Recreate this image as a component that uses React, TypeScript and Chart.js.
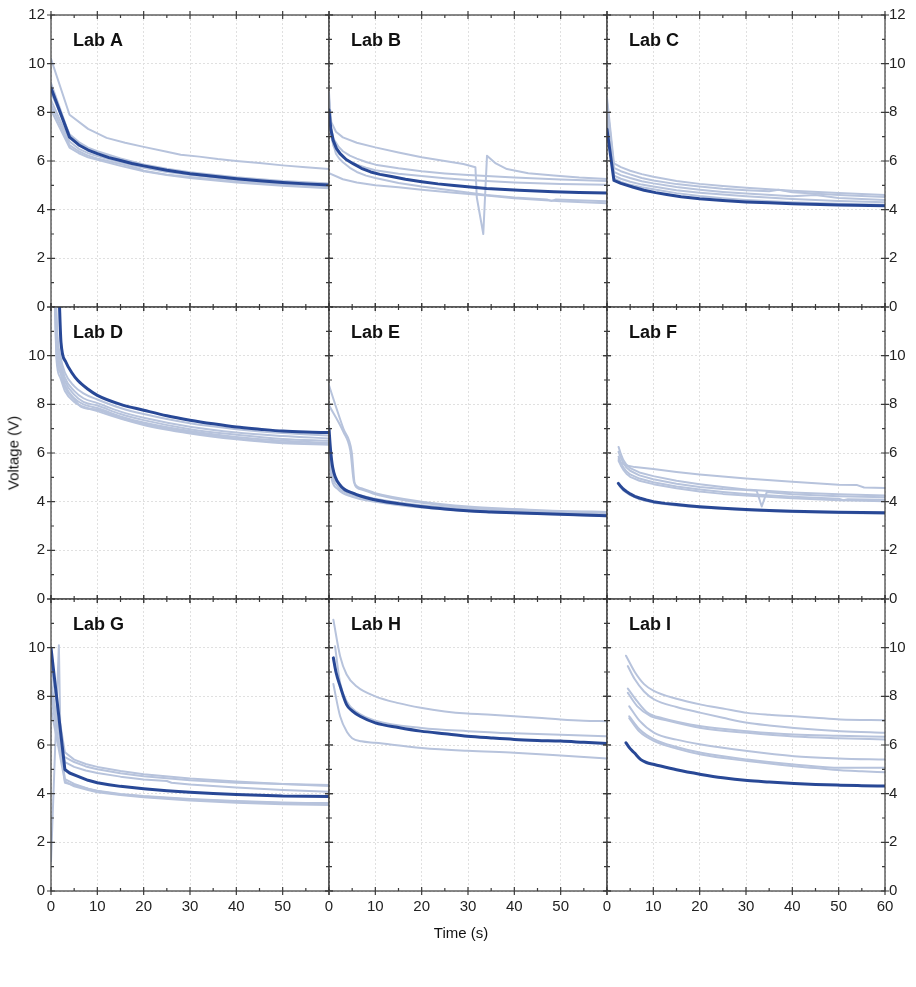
import React, { useEffect, useRef } from 'react';
import { Chart, registerables } from 'chart.js';

Chart.register(...registerables);

type Pt = [number, number];

// ---------- axes ----------
const X_TICKS = [0, 10, 20, 30, 40, 50, 60];
const X_MINOR = [5, 15, 25, 35, 45, 55];
const Y_TICKS = [0, 2, 4, 6, 8, 10, 12];
const Y_MINOR = [1, 3, 5, 7, 9, 11];
const X_TITLE = 'Time (s)';
const Y_TITLE = 'Voltage (V)';
const LAB_NAMES = ['Lab A', 'Lab B', 'Lab C', 'Lab D', 'Lab E', 'Lab F', 'Lab G', 'Lab H', 'Lab I'];

// ---------- data: [time s, voltage V] ----------
const LAB_A_MEAN: Pt[] = [[0, 9.0], [4, 6.98], [6, 6.66], [8, 6.45], [10, 6.3], [12.5, 6.14], [15, 6.02], [17.5, 5.9], [20, 5.8], [25, 5.62], [30, 5.48], [35, 5.37], [40, 5.27], [45, 5.19], [50, 5.12], [55, 5.06], [60, 5.01]];
const LAB_A_RUNS: Pt[][] = [
  [[0, 10.2], [4, 7.9], [8, 7.32], [12, 6.95], [16, 6.75], [20, 6.58], [25, 6.38], [28, 6.26], [32, 6.18], [36, 6.08], [40, 6.0], [45, 5.92], [50, 5.82], [55, 5.74], [60, 5.67]],
  [[0, 8.8], [4, 7.1], [6, 6.78], [8, 6.55], [10, 6.4], [15, 6.1], [20, 5.86], [25, 5.68], [30, 5.54], [40, 5.33], [50, 5.18], [60, 5.08]],
  [[0, 8.5], [4, 6.8], [6, 6.5], [8, 6.32], [10, 6.2], [15, 5.95], [20, 5.72], [25, 5.55], [30, 5.43], [40, 5.22], [50, 5.08], [60, 4.98]],
  [[0, 8.3], [4, 6.65], [6, 6.4], [8, 6.22], [10, 6.1], [15, 5.88], [19, 5.68], [20, 5.6], [25, 5.44], [30, 5.34], [40, 5.16], [50, 5.02], [60, 4.92]],
  [[0, 8.1], [4, 6.55], [6, 6.32], [8, 6.15], [10, 6.05], [15, 5.8], [20, 5.58], [25, 5.42], [30, 5.3], [40, 5.12], [50, 4.98], [60, 4.88]],
  [[0, 9.2], [4, 7.05], [7, 6.6], [10, 6.35], [15, 6.05], [20, 5.83], [30, 5.5], [40, 5.3], [50, 5.15], [60, 5.05]],
];

const LAB_B_MEAN: Pt[] = [[0, 8.1], [0.4, 7.3], [0.9, 6.85], [1.6, 6.52], [2.4, 6.3], [3.7, 6.06], [5.3, 5.88], [7, 5.7], [9, 5.55], [11, 5.45], [13.5, 5.36], [16.5, 5.25], [20, 5.15], [23.5, 5.06], [27, 4.99], [30.5, 4.93], [34, 4.87], [41, 4.8], [48.5, 4.74], [54, 4.71], [60, 4.68]];
const LAB_B_RUNS: Pt[][] = [
  [[0, 8.6], [0.5, 7.6], [1.5, 7.2], [3, 6.97], [6, 6.75], [10, 6.56], [15, 6.35], [20, 6.15], [25, 6.0], [29, 5.88], [31.6, 5.74], [31.9, 4.5], [33.3, 3.0], [34.1, 6.22], [36, 5.9], [38.4, 5.67], [43, 5.5], [48.5, 5.4], [54, 5.32], [60, 5.26]],
  [[0, 8.0], [0.5, 7.3], [1, 6.9], [2, 6.6], [3, 6.4], [4.5, 6.22], [6, 6.1], [8, 5.96], [10, 5.85], [15, 5.7], [20, 5.58], [25, 5.49], [30, 5.42], [40, 5.32], [50, 5.24], [60, 5.18]],
  [[0, 7.6], [0.5, 7.0], [1, 6.6], [2, 6.33], [3, 6.15], [4.5, 5.98], [6, 5.85], [8, 5.72], [10, 5.62], [15, 5.48], [20, 5.38], [25, 5.29], [30, 5.22], [40, 5.12], [50, 5.05], [60, 5.02]],
  [[0, 8.8], [0.5, 7.2], [1, 6.65], [1.5, 6.3], [2.2, 6.1], [3, 5.95], [4.5, 5.72], [6, 5.55], [8, 5.4], [10, 5.3], [15, 5.1], [20, 4.95], [27, 4.78], [34, 4.6], [40, 4.5], [47, 4.42], [48, 4.36], [49, 4.42], [55, 4.38], [60, 4.35]],
  [[0, 5.5], [3, 5.25], [6, 5.12], [10, 5.0], [15, 4.92], [20, 4.82], [27, 4.7], [34, 4.58], [40, 4.47], [50, 4.35], [60, 4.26]],
];

const LAB_C_MEAN: Pt[] = [[0, 7.3], [1.5, 5.2], [3, 5.08], [5.7, 4.92], [8, 4.8], [10.5, 4.7], [12.9, 4.62], [16, 4.53], [20, 4.45], [25, 4.38], [30, 4.32], [35, 4.28], [40, 4.24], [50, 4.19], [60, 4.16]];
const LAB_C_RUNS: Pt[][] = [
  [[0, 8.6], [1.5, 5.9], [3, 5.75], [5, 5.6], [7.5, 5.46], [10, 5.35], [15, 5.18], [20, 5.06], [25, 4.97], [30, 4.9], [40, 4.78], [50, 4.68], [60, 4.6]],
  [[0, 8.4], [1.5, 5.72], [3, 5.58], [5, 5.45], [7.5, 5.3], [10, 5.2], [15, 5.05], [20, 4.95], [25, 4.86], [30, 4.8], [35, 4.76], [37, 4.82], [40, 4.72], [50, 4.6], [60, 4.52]],
  [[0, 8.1], [1.5, 5.55], [3, 5.42], [5, 5.3], [7.5, 5.17], [10, 5.08], [15, 4.93], [20, 4.82], [25, 4.73], [30, 4.66], [40, 4.55], [45, 4.6], [50, 4.48], [60, 4.4]],
  [[0, 7.9], [1.5, 5.4], [3, 5.27], [5, 5.15], [7.5, 5.03], [10, 4.95], [15, 4.8], [20, 4.7], [25, 4.62], [30, 4.55], [40, 4.44], [50, 4.36], [60, 4.3]],
  [[0, 7.6], [1.5, 5.28], [3, 5.14], [5, 5.02], [7.5, 4.92], [10, 4.84], [15, 4.68], [20, 4.56], [25, 4.47], [30, 4.4], [40, 4.3], [50, 4.24], [60, 4.2]],
];

const LAB_D_MEAN: Pt[] = [[1.75, 12.5], [2.15, 10.56], [3.2, 9.74], [4.5, 9.3], [5.75, 8.99], [8, 8.62], [10, 8.37], [15, 8.0], [20, 7.76], [25, 7.53], [30, 7.35], [35, 7.2], [40, 7.07], [45, 6.98], [50, 6.9], [55, 6.86], [60, 6.84]];
const LAB_D_RUNS: Pt[][] = [
  [[1.0, 12.5], [1.4, 10.8], [2, 10.0], [3, 9.3], [5, 8.75], [7, 8.45], [10, 8.2], [15, 7.85], [20, 7.6], [30, 7.22], [40, 6.98], [50, 6.82], [60, 6.72]],
  [[1.0, 12.5], [1.4, 10.5], [2, 9.8], [3, 9.1], [5, 8.55], [7, 8.25], [10, 8.05], [15, 7.7], [20, 7.45], [30, 7.08], [40, 6.84], [50, 6.7], [60, 6.6]],
  [[0.9, 12.5], [1.3, 10.4], [2, 9.6], [3, 8.95], [5, 8.4], [7, 8.1], [10, 7.95], [15, 7.6], [20, 7.35], [30, 6.98], [40, 6.75], [50, 6.58], [60, 6.5]],
  [[0.9, 12.5], [1.3, 10.2], [2, 9.45], [3, 8.8], [5, 8.25], [7, 8.0], [10, 7.85], [15, 7.5], [20, 7.25], [30, 6.9], [40, 6.66], [50, 6.5], [60, 6.42]],
  [[0.8, 12.5], [1.2, 10.0], [2, 9.3], [3, 8.7], [5, 8.2], [6.5, 7.9], [10, 7.78], [15, 7.44], [20, 7.2], [30, 6.85], [40, 6.6], [50, 6.44], [60, 6.37]],
  [[0.8, 12.5], [1.2, 9.8], [2, 9.1], [3, 8.55], [5, 8.1], [10, 7.72], [20, 7.15], [30, 6.8], [40, 6.56], [50, 6.4], [60, 6.34]],
];

const LAB_E_MEAN: Pt[] = [[0, 7.0], [0.3, 6.2], [0.8, 5.4], [2.4, 4.68], [5.3, 4.34], [9.6, 4.09], [15, 3.92], [19.7, 3.8], [25, 3.7], [29.8, 3.63], [35, 3.58], [39.8, 3.54], [49.9, 3.48], [60, 3.42]];
const LAB_E_RUNS: Pt[][] = [
  [[0, 8.78], [1.5, 7.9], [3.1, 7.0], [4.9, 6.05], [5.6, 4.68], [7, 4.5], [10, 4.3], [15, 4.1], [20, 3.95], [30, 3.75], [40, 3.65], [50, 3.6], [60, 3.56]],
  [[0, 7.96], [3.1, 6.87], [4.6, 6.1], [5.4, 4.8], [7, 4.55], [10, 4.35], [20, 4.0], [30, 3.8], [40, 3.7], [50, 3.62], [60, 3.58]],
  [[0, 6.5], [0.5, 5.4], [2, 4.75], [5, 4.38], [10, 4.12], [20, 3.85], [30, 3.7], [40, 3.6], [50, 3.55], [60, 3.5]],
  [[0, 6.0], [0.5, 5.2], [2, 4.6], [5, 4.28], [10, 4.05], [20, 3.8], [30, 3.66], [40, 3.56], [50, 3.5], [60, 3.46]],
  [[0, 5.8], [0.5, 5.0], [2, 4.5], [5, 4.2], [10, 4.0], [20, 3.76], [30, 3.62], [40, 3.53], [50, 3.47], [60, 3.4]],
];

const LAB_F_MEAN: Pt[] = [[2.45, 4.75], [3, 4.62], [3.5, 4.52], [4.2, 4.42], [5, 4.32], [6, 4.22], [7, 4.15], [8.5, 4.07], [10, 4.0], [12.5, 3.93], [15, 3.88], [17.5, 3.83], [20, 3.79], [25, 3.73], [30, 3.68], [35, 3.64], [40, 3.61], [50, 3.57], [60, 3.54]];
const LAB_F_RUNS: Pt[][] = [
  [[2.5, 5.75], [3, 5.6], [4, 5.5], [6, 5.42], [10, 5.34], [15, 5.22], [20, 5.12], [25, 5.03], [30, 4.95], [40, 4.82], [50, 4.7], [54, 4.68], [55.5, 4.58], [60, 4.56]],
  [[2.5, 6.25], [3, 5.95], [3.5, 5.72], [4.2, 5.52], [5, 5.38], [7, 5.2], [10, 5.05], [15, 4.86], [20, 4.72], [25, 4.6], [30, 4.5], [40, 4.38], [50, 4.3], [60, 4.25]],
  [[2.5, 6.05], [3, 5.8], [3.5, 5.6], [4.2, 5.4], [5, 5.27], [7, 5.08], [10, 4.92], [15, 4.74], [20, 4.6], [25, 4.52], [30, 4.48], [32.3, 4.45], [33.4, 3.8], [34.5, 4.4], [40, 4.3], [50, 4.22], [60, 4.18]],
  [[2.5, 5.85], [3, 5.6], [3.5, 5.42], [4.2, 5.25], [5, 5.12], [7, 4.95], [10, 4.8], [15, 4.62], [20, 4.5], [25, 4.4], [30, 4.32], [40, 4.2], [50, 4.12], [51, 4.06], [52, 4.1], [60, 4.08]],
  [[2.5, 5.68], [3, 5.48], [3.5, 5.32], [4.2, 5.15], [5, 5.02], [7, 4.86], [10, 4.72], [15, 4.55], [20, 4.42], [25, 4.32], [30, 4.25], [40, 4.14], [50, 4.06], [60, 4.02]],
  [[2.5, 4.7], [3.5, 4.46], [5, 4.27], [7, 4.1], [10, 3.96], [15, 3.84], [20, 3.76], [30, 3.65], [40, 3.58], [60, 3.5]],
];

const LAB_G_MEAN: Pt[] = [[0, 9.99], [3, 4.99], [4, 4.85], [5.7, 4.72], [8, 4.55], [10, 4.45], [12.5, 4.37], [15, 4.3], [20, 4.2], [25, 4.12], [30, 4.06], [35, 4.01], [40, 3.97], [50, 3.9], [60, 3.88]];
const LAB_G_RUNS: Pt[][] = [
  [[0, 1.2], [1.7, 10.1], [2.1, 5.6], [3, 5.5], [5, 5.3], [7.5, 5.12], [10, 5.0], [15, 4.84], [20, 4.72], [30, 4.55], [40, 4.45], [50, 4.4], [60, 4.36]],
  [[0, 9.5], [0.5, 8.6], [3, 5.7], [5, 5.4], [7.5, 5.22], [10, 5.1], [15, 4.93], [20, 4.8], [30, 4.62], [40, 4.5], [50, 4.4], [60, 4.32]],
  [[0, 8.2], [3, 5.3], [5, 5.1], [7.5, 4.95], [10, 4.85], [15, 4.7], [20, 4.58], [25, 4.52], [26, 4.45], [30, 4.38], [40, 4.25], [50, 4.15], [60, 4.08]],
  [[0, 8.0], [3, 4.6], [5, 4.4], [8, 4.2], [10, 4.12], [15, 3.99], [20, 3.9], [30, 3.78], [40, 3.7], [50, 3.64], [60, 3.6]],
  [[0, 7.5], [3, 4.5], [5, 4.3], [8, 4.15], [10, 4.06], [15, 3.94], [20, 3.85], [30, 3.72], [40, 3.63], [50, 3.57], [60, 3.53]],
  [[0, 8.6], [2.5, 5.6], [3, 4.45], [5, 4.35], [7, 4.25], [10, 4.1], [15, 3.97], [20, 3.88], [30, 3.76], [40, 3.68], [50, 3.62], [60, 3.62]],
];

const LAB_H_MEAN: Pt[] = [[0.94, 9.58], [1.5, 9.0], [2.4, 8.42], [3.8, 7.66], [5, 7.4], [6.7, 7.18], [10, 6.91], [15, 6.72], [19.8, 6.57], [25, 6.46], [29.9, 6.36], [35, 6.29], [40, 6.23], [45, 6.19], [50, 6.16], [55, 6.11], [60, 6.06]];
const LAB_H_RUNS: Pt[][] = [
  [[0.94, 11.15], [2.4, 9.65], [3.8, 8.9], [6, 8.4], [10, 8.0], [15, 7.72], [19.8, 7.53], [25, 7.38], [29.9, 7.29], [35, 7.24], [40, 7.18], [45, 7.12], [50, 7.05], [55, 7.0], [60, 6.98]],
  [[1.3, 10.06], [2.4, 8.55], [3.8, 7.8], [6, 7.35], [10, 7.0], [20, 6.7], [30, 6.57], [40, 6.48], [50, 6.42], [60, 6.36]],
  [[0.94, 8.51], [2.4, 7.18], [4, 6.5], [5, 6.28], [7, 6.15], [10, 6.09], [20, 5.88], [30, 5.76], [40, 5.68], [50, 5.57], [60, 5.45]],
];

const LAB_I_MEAN: Pt[] = [[4.1, 6.09], [5, 5.85], [5.9, 5.68], [7.3, 5.4], [8.5, 5.28], [10.2, 5.2], [15, 4.98], [20.3, 4.79], [25, 4.65], [30.3, 4.54], [35, 4.48], [40.4, 4.42], [45, 4.38], [50.4, 4.35], [55, 4.33], [60, 4.31]];
const LAB_I_RUNS: Pt[][] = [
  [[4.1, 9.67], [6, 9.0], [8, 8.5], [10.2, 8.21], [15, 7.9], [20.3, 7.66], [25, 7.5], [30.3, 7.32], [35, 7.24], [40.4, 7.18], [45, 7.12], [50.4, 7.05], [60, 7.02]],
  [[4.5, 9.24], [6, 8.7], [8, 8.2], [10.2, 7.87], [15, 7.56], [20.3, 7.32], [25, 7.12], [30.3, 6.91], [35, 6.8], [40.4, 6.7], [50.4, 6.57], [60, 6.5]],
  [[4.5, 8.32], [6.5, 7.8], [8.8, 7.32], [12, 7.1], [20.3, 6.77], [30.3, 6.57], [40.4, 6.43], [50, 6.38], [60, 6.34]],
  [[4.5, 8.14], [6.5, 7.6], [9.5, 7.18], [12, 7.05], [20.3, 6.7], [30.3, 6.5], [40.4, 6.35], [50, 6.28], [60, 6.23]],
  [[4.8, 7.59], [7, 7.0], [10.2, 6.5], [15, 6.22], [20.3, 6.02], [30.3, 5.75], [40.4, 5.54], [50, 5.45], [60, 5.4]],
  [[4.8, 7.18], [7, 6.65], [10.2, 6.23], [15, 5.92], [20.3, 5.68], [30.3, 5.4], [40.4, 5.2], [50.4, 5.06], [60, 5.06]],
  [[4.8, 7.1], [7, 6.55], [10.2, 6.16], [15, 5.85], [20.3, 5.61], [30.3, 5.34], [40.4, 5.13], [45, 5.05], [50.4, 4.96], [55, 4.92], [60, 4.88]],
];

const LAB_MEANS: Pt[][] = [LAB_A_MEAN, LAB_B_MEAN, LAB_C_MEAN, LAB_D_MEAN, LAB_E_MEAN, LAB_F_MEAN, LAB_G_MEAN, LAB_H_MEAN, LAB_I_MEAN];
const LAB_RUNS: Pt[][][] = [LAB_A_RUNS, LAB_B_RUNS, LAB_C_RUNS, LAB_D_RUNS, LAB_E_RUNS, LAB_F_RUNS, LAB_G_RUNS, LAB_H_RUNS, LAB_I_RUNS];
// panels whose traces have sharp corners are drawn as straight segments
const STRAIGHT_SEGMENTS = [true, true, true, false, false, true, true, false, false];

// ---------- layout / style ----------
const W = 916;
const H = 987;
const COL_EDGES = [51, 329, 607, 885];
const ROW_EDGES = [15, 307, 599, 891];
const Y_AXIS_W = 40;
const X_AXIS_H = 30;
const DARK = '#284896';
const LIGHT = '#b7c3dc';
const GRID = '#e0e0e0';
const FONT = '"Liberation Sans", Arial, Helvetica, sans-serif';

const framePlugin = {
  id: 'panelFrame',
  afterDraw(chart: any, _args: any, opts: any) {
    const { ctx, chartArea } = chart;
    const { left, top, right, bottom } = chartArea;
    const xs = chart.scales.x;
    const ys = chart.scales.y;
    ctx.save();
    ctx.strokeStyle = '#3a3a3a';
    ctx.lineWidth = 1.2;
    ctx.strokeRect(left, top, right - left, bottom - top);
    ctx.beginPath();
    X_TICKS.forEach((v) => {
      const p = xs.getPixelForValue(v);
      ctx.moveTo(p, bottom - 4); ctx.lineTo(p, bottom + 4);
      ctx.moveTo(p, top - 4); ctx.lineTo(p, top + 4);
    });
    X_MINOR.forEach((v) => {
      const p = xs.getPixelForValue(v);
      ctx.moveTo(p, bottom - 3); ctx.lineTo(p, bottom);
      ctx.moveTo(p, top); ctx.lineTo(p, top + 3);
    });
    Y_TICKS.forEach((v) => {
      const p = ys.getPixelForValue(v);
      ctx.moveTo(left - 4, p); ctx.lineTo(left + 4, p);
      ctx.moveTo(right - 4, p); ctx.lineTo(right + 4, p);
    });
    Y_MINOR.forEach((v) => {
      const p = ys.getPixelForValue(v);
      ctx.moveTo(left, p); ctx.lineTo(left + 3, p);
      ctx.moveTo(right - 3, p); ctx.lineTo(right, p);
    });
    ctx.stroke();
    ctx.fillStyle = '#111';
    ctx.font = 'bold 18px ' + FONT;
    ctx.textBaseline = 'alphabetic';
    ctx.textAlign = 'left';
    ctx.fillText(opts.label, left + 22, top + 31);
    ctx.restore();
  },
};

function Panel({ index }: { index: number }) {
  const ref = useRef<HTMLCanvasElement>(null);
  useEffect(() => {
    const row = Math.floor(index / 3);
    const col = index % 3;
    const left = COL_EDGES[col];
    const right = COL_EDGES[col + 1];
    const top = ROW_EDGES[row];
    const bottom = ROW_EDGES[row + 1];
    const yRight = col === 2;
    const padding = {
      left: yRight ? left : left - Y_AXIS_W,
      right: yRight ? W - right - Y_AXIS_W : W - right,
      top,
      bottom: H - bottom - X_AXIS_H,
    };
    const straight = STRAIGHT_SEGMENTS[index];
    const lineStyle = straight
      ? { tension: 0, cubicInterpolationMode: 'default' }
      : { cubicInterpolationMode: 'monotone' };
    const toXY = (pts: Pt[]) => pts.map(([x, y]) => ({ x, y }));
    const datasets: any[] = [
      { data: toXY(LAB_MEANS[index]), borderColor: DARK, borderWidth: 3, clip: 0, ...lineStyle },
      ...LAB_RUNS[index].map((r) => ({ data: toXY(r), borderColor: LIGHT, borderWidth: 2, clip: 0, ...lineStyle })),
    ];
    const chart = new Chart(ref.current as HTMLCanvasElement, {
      type: 'line',
      data: { datasets },
      options: {
        responsive: false,
        animation: false,
        devicePixelRatio: 1,
        parsing: false as any,
        layout: { padding },
        elements: {
          point: { radius: 0 },
          line: { fill: false, borderCapStyle: 'round', borderJoinStyle: 'round' },
        },
        plugins: {
          legend: { display: false },
          tooltip: { enabled: false },
          panelFrame: { label: LAB_NAMES[index] },
        } as any,
        scales: {
          x: {
            type: 'linear',
            min: 0,
            max: 60,
            position: 'bottom',
            afterBuildTicks: (s: any) => { s.ticks = X_TICKS.map((v) => ({ value: v })); },
            afterFit: (s: any) => { s.height = X_AXIS_H; },
            grid: { color: GRID, lineWidth: 1, drawTicks: false },
            border: { display: false, dash: [2, 2] },
            ticks: {
              display: row === 2,
              padding: 7,
              maxRotation: 0,
              autoSkip: false,
              color: '#222',
              font: { size: 15, family: FONT },
              callback: (v: any) => (col < 2 && v === 60 ? '' : String(v)),
            },
          },
          y: {
            type: 'linear',
            min: 0,
            max: 12,
            position: yRight ? 'right' : 'left',
            afterBuildTicks: (s: any) => { s.ticks = Y_TICKS.map((v) => ({ value: v })); },
            afterFit: (s: any) => { s.width = Y_AXIS_W; },
            grid: { color: GRID, lineWidth: 1, drawTicks: false },
            border: { display: false, dash: [2, 2] },
            ticks: {
              display: col !== 1,
              padding: yRight ? 4 : 6,
              color: '#222',
              font: { size: 15, family: FONT },
              callback: (v: any) => (row > 0 && v === 12 ? '' : String(v)),
            },
          },
        },
      } as any,
      plugins: [framePlugin],
    });
    return () => chart.destroy();
  }, [index]);
  return <canvas ref={ref} width={W} height={H} style={{ position: 'absolute', left: 0, top: 0 }} />;
}

export default function App() {
  return (
    <div style={{ position: 'absolute', left: 0, top: 0, width: W, height: H, background: '#fff', overflow: 'hidden' }}>
      {LAB_NAMES.map((_, i) => (
        <Panel key={i} index={i} />
      ))}
      <div
        style={{
          position: 'absolute', left: 13, top: 453, transform: 'translate(-50%, -50%) rotate(-90deg)',
          whiteSpace: 'nowrap', font: '15px ' + FONT, color: '#111',
        }}
      >
        {Y_TITLE}
      </div>
      <div
        style={{
          position: 'absolute', left: 461, top: 932, transform: 'translate(-50%, -50%)',
          whiteSpace: 'nowrap', font: '15px ' + FONT, color: '#111',
        }}
      >
        {X_TITLE}
      </div>
    </div>
  );
}
